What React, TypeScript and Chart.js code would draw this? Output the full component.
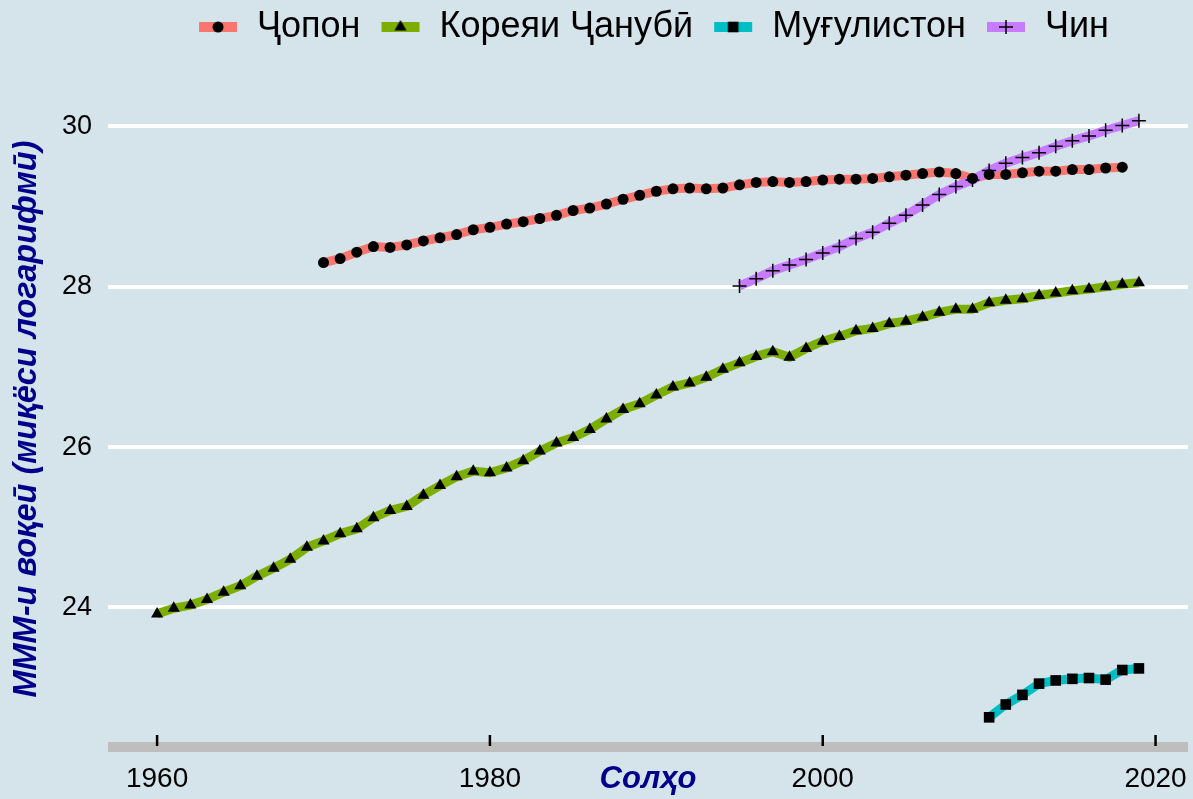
import React, { useEffect, useRef } from 'react';
import { Chart, registerables } from 'chart.js';
Chart.register(...registerables);

const seriesNames = ['Ҷопон', 'Кореяи Ҷанубӣ', 'Муғулистон', 'Чин'];
const seriesColors = ['#f8766d', '#7cae00', '#00bfc4', '#c77cff'];
const seriesMarkers = ['circle', 'triangle', 'rect', 'cross'];
const markerRadii = [5.5, 7, 7.5, 7];

const japanStartYear = 1970;
const japanValues = [
  28.30, 28.35, 28.43, 28.50, 28.49, 28.52, 28.57, 28.61, 28.65, 28.71,
  28.74, 28.78, 28.81, 28.85, 28.89, 28.95, 28.98, 29.03, 29.09, 29.14,
  29.19, 29.22, 29.23, 29.22, 29.23, 29.27, 29.30, 29.31, 29.30, 29.31,
  29.33, 29.34, 29.34, 29.35, 29.37, 29.39, 29.41, 29.43, 29.41, 29.35,
  29.40, 29.40, 29.42, 29.44, 29.44, 29.46, 29.46, 29.48, 29.49,
];

const koreaStartYear = 1960;
const koreaValues = [
  23.92, 23.99, 24.03, 24.10, 24.19, 24.27, 24.39, 24.49, 24.60, 24.75,
  24.83, 24.92, 24.98, 25.12, 25.21, 25.26, 25.40, 25.52, 25.63, 25.70,
  25.68, 25.74, 25.83, 25.95, 26.05, 26.12, 26.22, 26.35, 26.47, 26.54,
  26.65, 26.75, 26.80, 26.87, 26.97, 27.05, 27.13, 27.19, 27.12, 27.23,
  27.32, 27.38, 27.45, 27.48, 27.54, 27.57, 27.62, 27.68, 27.72, 27.72,
  27.80, 27.83, 27.85, 27.89, 27.92, 27.95, 27.97, 28.00, 28.03, 28.05,
];

const mongoliaStartYear = 2010;
const mongoliaValues = [22.63, 22.79, 22.91, 23.05, 23.09, 23.11, 23.12, 23.10, 23.22, 23.24];

const chinaStartYear = 1995;
const chinaValues = [
  28.01, 28.10, 28.20, 28.27, 28.34, 28.42, 28.50, 28.60, 28.68, 28.79,
  28.89, 29.02, 29.15, 29.25, 29.33, 29.45, 29.54, 29.61, 29.67, 29.75,
  29.82, 29.88, 29.95, 30.01, 30.07,
];

const xTickValues = [1960, 1980, 2000, 2020];
const yTickValues = [24, 26, 28, 30];
const xLimits = [1957.05, 2021.95];
const yLimits = [22.26, 30.44];

const xTitle = 'Солҳо';
const yTitle = 'МММ-и воқеӣ (миқёси логарифмӣ)';

const FONT = "'Liberation Sans', Arial, sans-serif";
const BG = '#d5e4eb';
const TITLE_COLOR = '#00008b';
const AXIS_BAND = '#bebebe';

function toPoints(start: number, values: number[]) {
  return values.map((v, i) => ({ x: start + i, y: v }));
}

function drawMarker(ctx: CanvasRenderingContext2D, kind: string, r: number, x: number, y: number) {
  ctx.fillStyle = '#000';
  ctx.strokeStyle = '#000';
  ctx.lineWidth = 1.5;
  ctx.beginPath();
  if (kind === 'circle') {
    ctx.arc(x, y, r, 0, Math.PI * 2);
    ctx.fill();
  } else if (kind === 'triangle') {
    let a = 0;
    const step = (2 * Math.PI) / 3;
    ctx.moveTo(x + Math.sin(a) * r, y - Math.cos(a) * r);
    a += step;
    ctx.lineTo(x + Math.sin(a) * r, y - Math.cos(a) * r);
    a += step;
    ctx.lineTo(x + Math.sin(a) * r, y - Math.cos(a) * r);
    ctx.closePath();
    ctx.fill();
  } else if (kind === 'rect') {
    const s = Math.SQRT1_2 * r;
    ctx.fillRect(x - s, y - s, 2 * s, 2 * s);
  } else {
    ctx.moveTo(x - r, y);
    ctx.lineTo(x + r, y);
    ctx.moveTo(x, y - r);
    ctx.lineTo(x, y + r);
    ctx.stroke();
  }
}

function makeLegendIcon(color: string, kind: string, r: number) {
  const c = document.createElement('canvas');
  c.width = 52;
  c.height = 22;
  const ctx = c.getContext('2d')!;
  ctx.fillStyle = color;
  ctx.fillRect(12, 6, 38, 10);
  drawMarker(ctx, kind, r, 31, 11);
  return c;
}

export default function App() {
  const ref = useRef<HTMLCanvasElement | null>(null);

  useEffect(() => {
    const canvas = ref.current;
    if (!canvas) return;
    const seriesData = [
      toPoints(japanStartYear, japanValues),
      toPoints(koreaStartYear, koreaValues),
      toPoints(mongoliaStartYear, mongoliaValues),
      toPoints(chinaStartYear, chinaValues),
    ];
    const icons = seriesNames.map((_, i) => makeLegendIcon(seriesColors[i], seriesMarkers[i], markerRadii[i]));

    const lineSets = seriesNames.map((name, i) => ({
      label: name,
      data: seriesData[i],
      borderColor: seriesColors[i],
      backgroundColor: seriesColors[i],
      borderWidth: 9,
      borderCapStyle: 'butt',
      borderJoinStyle: 'round',
      pointRadius: 0,
      tension: 0,
      order: 4 - i,
    }));
    const pointSets = seriesNames.map((name, i) => ({
      label: name + ' ',
      data: seriesData[i],
      showLine: false,
      pointStyle: seriesMarkers[i],
      pointRadius: markerRadii[i],
      pointBackgroundColor: '#000',
      pointBorderColor: '#000',
      pointBorderWidth: seriesMarkers[i] === 'cross' ? 1.5 : 0,
      order: 0,
    }));

    const bgPlugin = {
      id: 'bg',
      beforeDraw(chart: any) {
        const c = chart.ctx;
        c.save();
        c.fillStyle = BG;
        c.fillRect(0, 0, chart.width, chart.height);
        c.restore();
      },
      beforeLayout(chart: any) {
        const lg = chart.legend;
        if (lg && !lg.__patched) {
          const orig = lg.fit.bind(lg);
          lg.fit = function () {
            orig();
            this.height = 91;
          };
          lg.__patched = true;
        }
      },
      beforeDatasetsDraw(chart: any) {
        const c = chart.ctx;
        const { left, right, bottom } = chart.chartArea;
        c.save();
        c.fillStyle = AXIS_BAND;
        c.fillRect(left, bottom - 5, right - left, 10);
        c.restore();
      },
      afterDraw(chart: any) {
        const c = chart.ctx;
        const xs = chart.scales.x;
        const b = chart.chartArea.bottom;
        c.save();
        c.strokeStyle = '#000';
        c.lineWidth = 2.5;
        xTickValues.forEach((v) => {
          const px = xs.getPixelForValue(v);
          c.beginPath();
          c.moveTo(px, b - 12);
          c.lineTo(px, b - 1);
          c.stroke();
        });
        c.restore();
      },
    };

    const chart = new Chart(canvas, {
      type: 'line',
      data: { datasets: [...pointSets, ...lineSets] as any },
      plugins: [bgPlugin],
      options: {
        animation: false,
        responsive: false,
        devicePixelRatio: 1,
        layout: { autoPadding: false, padding: { left: 0, right: 5, top: 0, bottom: 0 } },
        plugins: {
          tooltip: { enabled: false },
          legend: {
            position: 'top',
            align: 'center',
            fullSize: false,
            onClick: () => {},
            labels: {
              usePointStyle: true,
              pointStyleWidth: 52,
              padding: 9,
              color: '#000',
              font: { family: FONT, size: 36 },
              generateLabels: () =>
                seriesNames.map((name, i) => ({
                  text: name,
                  pointStyle: icons[i],
                  fillStyle: 'rgba(0,0,0,0)',
                  strokeStyle: 'rgba(0,0,0,0)',
                  lineWidth: 0,
                  hidden: false,
                  datasetIndex: i,
                  fontColor: '#000',
                  rotation: 0,
                })) as any,
            },
          },
        },
        scales: {
          x: {
            type: 'linear',
            min: xLimits[0],
            max: xLimits[1],
            afterBuildTicks: (s: any) => {
              s.ticks = xTickValues.map((v) => ({ value: v }));
            },
            afterFit: (s: any) => {
              s.height = 52;
              s.paddingLeft = 0;
              s.paddingRight = 0;
            },
            grid: { display: false, drawTicks: true, tickLength: 15, color: 'rgba(0,0,0,0)' },
            border: { display: false },
            ticks: {
              color: '#000',
              font: { family: FONT, size: 28 },
              padding: 0,
              maxRotation: 0,
              autoSkip: false,
              callback: (v: any) => String(v),
            },
            title: {
              display: true,
              text: xTitle,
              color: TITLE_COLOR,
              font: { family: FONT, size: 31, weight: 'bold', style: 'italic' },
              padding: { top: 0, bottom: 1 },
            },
          },
          y: {
            type: 'linear',
            min: yLimits[0],
            max: yLimits[1],
            afterBuildTicks: (s: any) => {
              s.ticks = yTickValues.map((v) => ({ value: v }));
            },
            afterFit: (s: any) => {
              s.width = 108;
              s.paddingTop = 0;
              s.paddingBottom = 0;
            },
            grid: { color: '#ffffff', lineWidth: 4, drawTicks: false },
            border: { display: false },
            ticks: {
              color: '#000',
              font: { family: FONT, size: 27 },
              padding: 16,
              callback: (v: any) => String(v),
            },
            title: {
              display: true,
              text: yTitle,
              color: TITLE_COLOR,
              font: { family: FONT, size: 32.5, weight: 'bold', style: 'italic' },
              padding: { top: 8, bottom: 0 },
            },
          },
        },
      } as any,
    });
    return () => chart.destroy();
  }, []);

  return (
    <div style={{ position: 'absolute', left: 0, top: 0, width: 1193, height: 799 }}>
      <canvas ref={ref} width={1193} height={799} style={{ display: 'block' }} />
    </div>
  );
}
